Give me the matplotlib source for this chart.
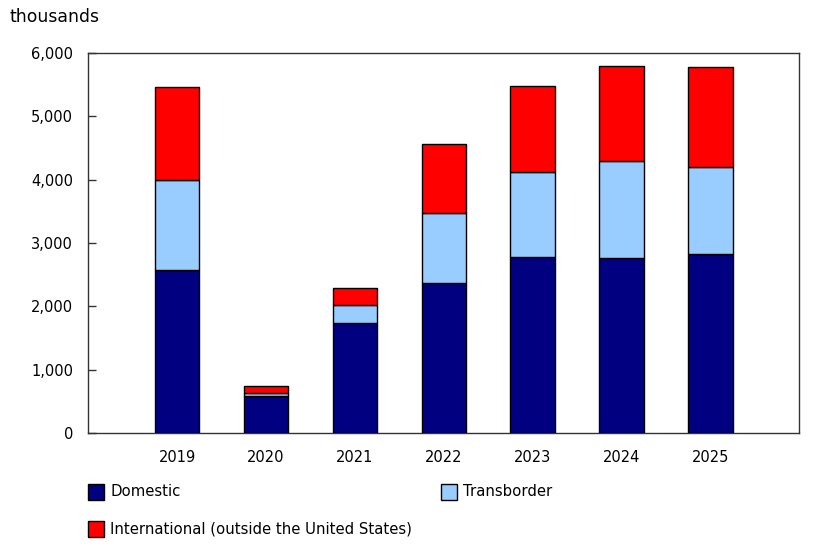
import matplotlib
matplotlib.use("Agg")
import matplotlib.pyplot as plt
from matplotlib.patches import Rectangle
import numpy as np

years = ["2019", "2020", "2021", "2022", "2023", "2024", "2025"]
domestic = [2575, 588, 1734, 2375, 2780, 2760, 2830]
transborder = [1425, 52, 286, 1103, 1340, 1540, 1370]
international = [1460, 106, 266, 1082, 1350, 1495, 1580]
series_names = ["Domestic", "Transborder", "International (outside the United States)"]
colors = ["#000080", "#99CCFF", "#FF0000"]

plt.rcParams['font.family'] = ['DejaVu Sans']

fig = plt.figure(figsize=(8.4, 5.45), dpi=100)
ax = fig.add_axes([88.3/840, 1-433.3/545, (799.3-88.3)/840, (433.3-52.7)/545])

x = np.arange(len(years))
bottom = np.zeros(len(years))
for vals, c in zip([domestic, transborder, international], colors):
    ax.bar(x, vals, width=0.5, bottom=bottom, color=c, edgecolor="black", linewidth=1.0, zorder=3)
    bottom += np.array(vals)

ax.set_xlim(-1, 7)
ax.set_ylim(0, 6000)
ax.set_yticks(range(0, 6001, 1000))
ax.set_yticklabels([f"{v:,}" for v in range(0, 6001, 1000)], fontsize=10.5)
ax.set_xticks(x)
ax.set_xticklabels(years, fontsize=10.5)
ax.tick_params(axis='x', length=0, pad=12)
ax.tick_params(axis='y', direction='in', length=5.5, width=1, color='#333333', pad=11)
for s in ax.spines.values():
    s.set_color('#333333')
    s.set_linewidth(1)

fig.text(9/840, 1-17/545, "thousands", fontsize=12.4, va='center', ha='left')

# legend
leg_pos = [(88, 492), (440.7, 492), (88, 529)]
for (lx, ly), name, c in zip(leg_pos, series_names, colors):
    fig.add_artist(Rectangle((lx/840, 1-(ly+8)/545), 16/840, 16/545, transform=fig.transFigure,
                             facecolor=c, edgecolor='black', linewidth=1))
    fig.text((lx+22)/840, 1-ly/545, name, fontsize=10.7, va='center', ha='left')

fig.savefig("out.png", dpi=100)
